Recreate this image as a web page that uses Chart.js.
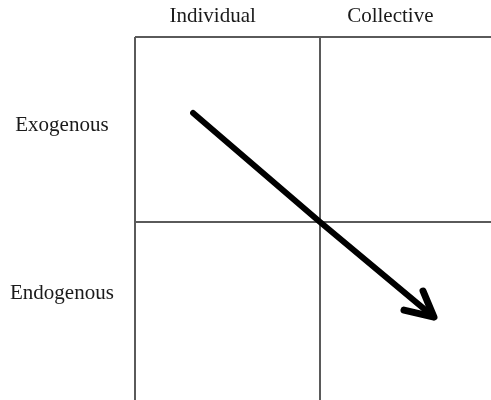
<!DOCTYPE html>
<html>
<head>
<meta charset="utf-8">
<script src="https://cdn.jsdelivr.net/npm/chart.js@4.4.1/dist/chart.umd.min.js"></script>
<style>
html,body{margin:0;padding:0;background:#fff;overflow:hidden;}
#wrap{width:491px;height:400px;position:relative;}
</style>
</head>
<body>
<div id="wrap"><canvas id="c" width="491" height="400"></canvas></div>
<script>
// Categories
const columnLabels = ["Individual", "Collective"];
const rowLabels = ["Exogenous", "Endogenous"];
// label anchor values (data units, one cell = 1)
const columnLabelX = [0.42, 1.38];
const columnLabelY = -0.11;
const rowLabelX = -0.395;
const rowLabelY = [0.476, 1.384];
// grid lines
const gridValues = [0, 1, 2];
// arrow shaft
const arrowShaft = [{x: 0.314, y: 0.411}, {x: 1.0, y: 1.0}, {x: 1.616, y: 1.514}];
// arrow head
const arrowHead = [{x: 1.557, y: 1.373}, {x: 1.616, y: 1.514}, {x: 1.454, y: 1.476}];

const labelPlugin = {
  id: 'labels',
  afterDraw(chart) {
    const ctx = chart.ctx, xs = chart.scales.x, ys = chart.scales.y;
    ctx.save();
    ctx.font = '21px "Liberation Serif", "Times New Roman", serif';
    ctx.fillStyle = '#1a1a1a';
    ctx.textAlign = 'center';
    ctx.textBaseline = 'middle';
    columnLabels.forEach((t, i) => {
      ctx.fillText(t, xs.getPixelForValue(columnLabelX[i]), ys.getPixelForValue(columnLabelY));
    });
    rowLabels.forEach((t, i) => {
      ctx.fillText(t, xs.getPixelForValue(rowLabelX), ys.getPixelForValue(rowLabelY[i]));
    });
    ctx.restore();
  }
};

new Chart(document.getElementById('c'), {
  type: 'scatter',
  data: {
    datasets: [
      {data: arrowShaft, showLine: true, borderColor: '#000', borderWidth: 6, pointRadius: 0, borderCapStyle: 'round', tension: 0},
      {data: arrowHead, showLine: true, borderColor: '#000', borderWidth: 7, pointRadius: 0, borderCapStyle: 'round', borderJoinStyle: 'round', tension: 0}
    ]
  },
  options: {
    responsive: false,
    animation: false,
    layout: {padding: {left: 135, top: 37, right: 0, bottom: 0}},
    plugins: {legend: {display: false}, tooltip: {enabled: false}},
    scales: {
      x: {
        type: 'linear', min: 0, max: (491 - 135) / 185,
        afterBuildTicks: s => { s.ticks = gridValues.map(v => ({value: v})); },
        afterFit: s => { s.height = 0; },
        ticks: {display: false},
        border: {display: false},
        grid: {color: '#5a5a5a', lineWidth: 2, drawTicks: false, tickLength: 0}
      },
      y: {
        type: 'linear', reverse: true, min: 0, max: (400 - 37) / 185,
        afterBuildTicks: s => { s.ticks = gridValues.map(v => ({value: v})); },
        afterFit: s => { s.width = 0; },
        ticks: {display: false},
        border: {display: false},
        grid: {color: '#5a5a5a', lineWidth: 2, drawTicks: false, tickLength: 0}
      }
    }
  },
  plugins: [labelPlugin]
});
</script>
</body>
</html>
